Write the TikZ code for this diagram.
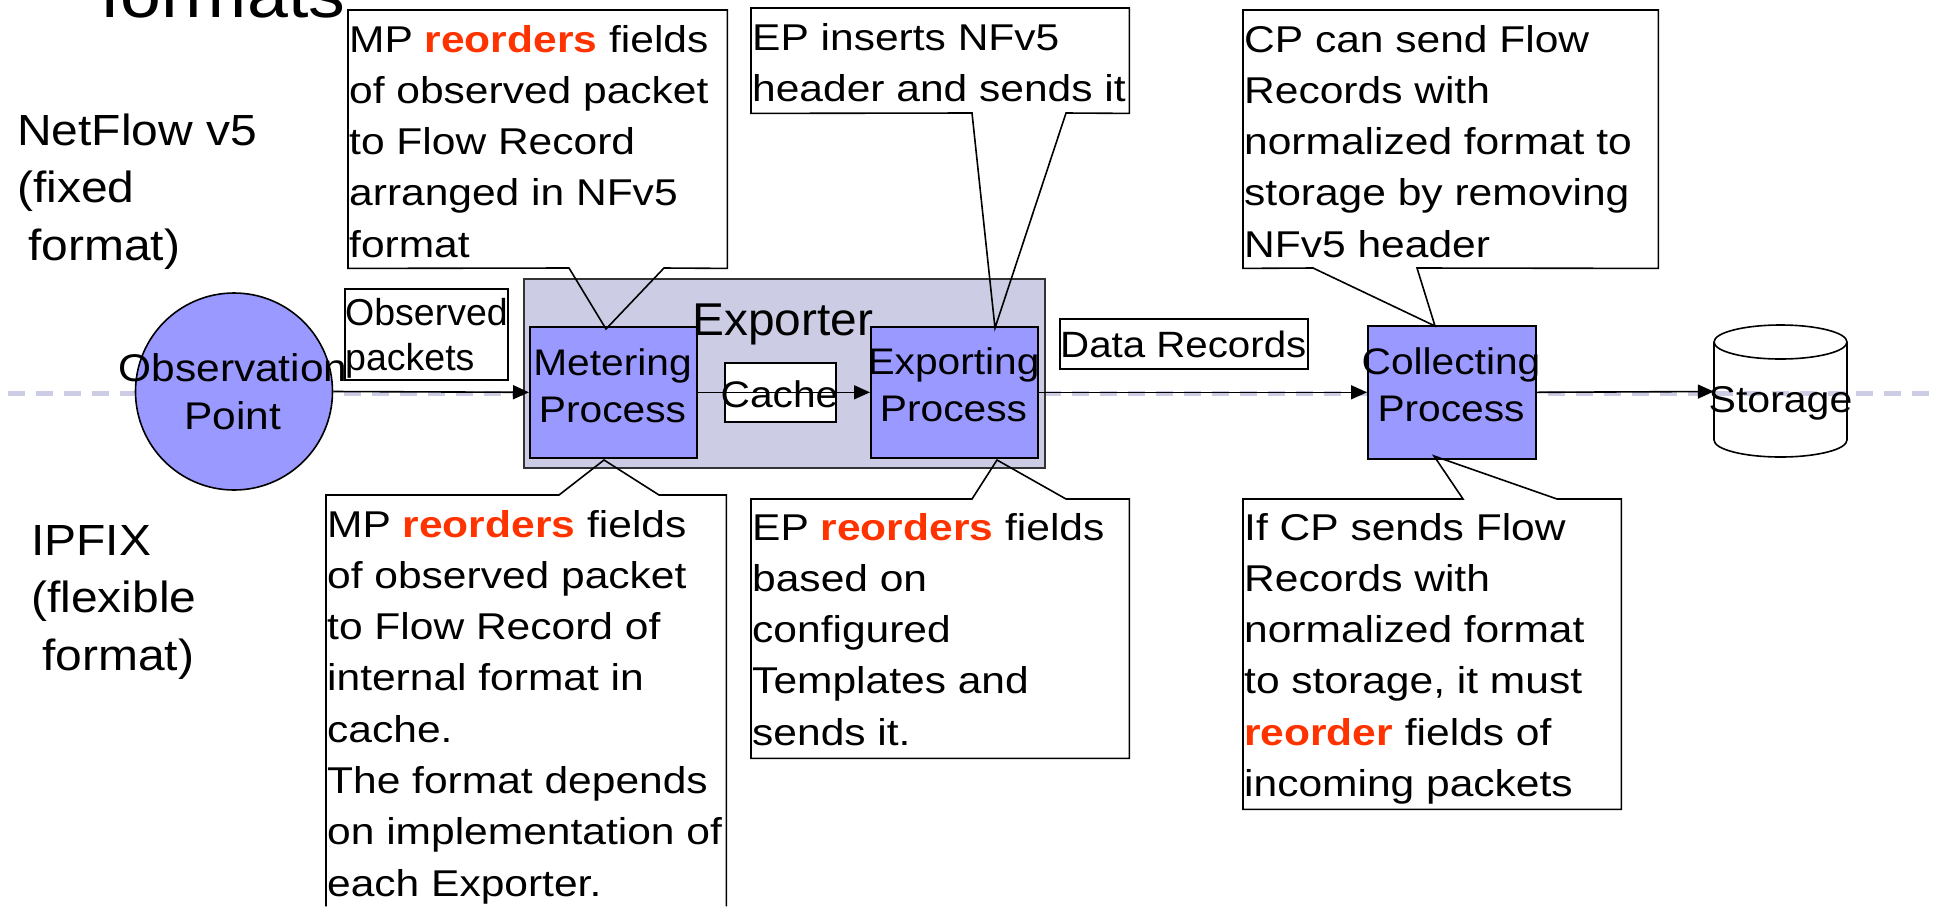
\documentclass[tikz,border=0pt]{standalone}
\usepackage{fontspec}
\setmainfont{Liberation Sans}[FakeStretch=1.1]
\newfontfamily\fontN{Liberation Sans}[FakeStretch=1.0]
\newfontfamily\fontE{Liberation Sans}[FakeStretch=1.04]
\newfontfamily\fontC{Liberation Sans}[FakeStretch=1.14]
\usetikzlibrary{arrows.meta}
\definecolor{procfill}{RGB}{153,153,255}
\definecolor{expfill}{RGB}{204,204,228}
\definecolor{dashcol}{RGB}{204,204,228}
\definecolor{hot}{RGB}{255,51,0}
\newcommand{\redword}[1]{\textcolor{hot}{\bfseries #1}}
\newcommand{\ctext}[1]{\parbox[t]{460pt}{\raggedright\fontC\fontsize{37.3}{51.3}\selectfont #1}}
\newcommand{\ptext}[1]{\parbox[t]{260pt}{\centering\fontsize{37}{47.5}\selectfont #1}}
\begin{document}
\begin{tikzpicture}[x=1pt,y=-1pt,
  procbox/.style={draw, line width=1.6pt, fill=procfill, inner sep=0pt, anchor=north west},
  callbg/.style={fill=white, inner sep=0pt, anchor=north west},
  cline/.style={draw, line width=1.6pt, line join=miter},
  plainbox/.style={draw, line width=1.6pt, fill=white, inner sep=0pt, anchor=north west},
  txt/.style={inner sep=0pt, anchor=base west},
  ctr/.style={inner sep=0pt, anchor=base},
  arr/.style={-{Triangle[length=16pt,width=14pt]}, line width=1.6pt}]

\useasboundingbox (0,0) rectangle (1933,906);
\fill[white] (0,0) rectangle (1933,906);

% dashed guide line
\coordinate (dashL) at (8,393);
\coordinate (dashR) at (1933,393);
\draw[dashcol, line width=5pt, dash pattern=on 17pt off 11pt] (dashL) -- (dashR);

% title fragment
\node[txt] (title) at (100,17) {\fontsize{66.8}{70}\selectfont formats};

% side labels
\node[txt] (nf) at (17,145) {\parbox[t]{300pt}{\fontsize{43.6}{57.5}\selectfont NetFlow v5\\(fixed\\\hspace*{11pt}format)}};
\node[txt] (ipfix) at (31,555) {\parbox[t]{300pt}{\fontsize{43.6}{57.5}\selectfont IPFIX\\(flexible\\\hspace*{11pt}format)}};

% observation point
\node[circle, draw, line width=1.6pt, fill=procfill, minimum size=197pt, inner sep=0pt] (op) at (234,391.5) {};
\node[ctr] (opText) at (233,381) {\parbox[t]{280pt}{\centering\fontsize{38.6}{48}\selectfont Observation\\Point}};

% exporter
\node[draw=black!80, line width=1.6pt, fill=expfill, inner sep=0pt, anchor=north west, minimum width=521pt, minimum height=189pt] (exp) at (523,278) {};

% process boxes
\node[procbox, minimum width=167pt, minimum height=131pt] (mp) at (529,326) {};
\node[procbox, minimum width=167pt, minimum height=131pt] (ep) at (870,326) {};
\node[procbox, minimum width=168pt, minimum height=133pt] (cp) at (1367,325) {};
\node[ctr] (mpText) at (612.5,375) {\ptext{Metering\\Process}};
\node[ctr] (epText) at (953.5,374) {\ptext{Exporting\\Process}};
\node[ctr] (cpText) at (1451,374) {\ptext{Collecting\\Process}};
\node[txt] (expText) at (692,335) {\fontE\fontsize{46}{50}\selectfont Exporter};

% cache
\node[plainbox, minimum width=111pt, minimum height=59pt] (cache) at (724,362) {};
\node[ctr] (cacheText) at (779.5,407) {\fontsize{37}{42}\selectfont Cache};

% observed packets
\node[plainbox, minimum width=163pt, minimum height=91pt] (obs) at (344,288) {};
\node[txt] (obsText) at (345,325) {\parbox[t]{200pt}{\fontN\fontsize{37.5}{45}\selectfont Observed\\packets}};

% data records
\node[plainbox, minimum width=248pt, minimum height=50pt] (dr) at (1059,318) {};
\node[txt] (drText) at (1060,357) {\fontsize{36.6}{42}\selectfont Data Records};

% storage
\node[minimum width=133pt, minimum height=132pt, inner sep=0pt] (sto) at (1780.5,391.5) {};
\draw[line width=1.6pt] (1780.5,342) ellipse [x radius=66.5, y radius=17];
\draw[line width=1.6pt] (1714,342) -- (1714,440) .. controls (1714,449.4) and (1743.8,457) .. (1780.5,457) .. controls (1817.2,457) and (1847,449.4) .. (1847,440) -- (1847,342);
\node[ctr] (stoText) at (1780.5,412) {\fontsize{37.3}{42}\selectfont Storage};

% arrows
\draw[arr] (op.east) -- (mp.west);
\draw[arr] (mp.east) -- (ep.west);
\draw[arr] (ep.east) -- (cp.west);
\draw[arr] (cp.east) -- (sto.west);

% callout: MP top
\node[callbg, minimum width=379pt, minimum height=258pt] (mpTop) at (348,10) {};
\coordinate (mpTopTip) at (606,329);
\draw[cline] (mpTop.south west) -- (569,268) -- (mpTopTip) -- (664,268) -- (mpTop.south east) -- (mpTop.north east) -- (mpTop.north west) -- cycle;
\node[txt] (mpTopText) at (349,52) {\ctext{MP \redword{reorders} fields\\of observed packet\\to Flow Record\\arranged in NFv5\\format}};

% callout: EP top
\node[callbg, minimum width=378pt, minimum height=105pt] (epTop) at (751,8) {};
\coordinate (epTopTip) at (995,328);
\draw[cline] (epTop.south west) -- (972,113) -- (epTopTip) -- (1066,113) -- (epTop.south east) -- (epTop.north east) -- (epTop.north west) -- cycle;
\node[txt] (epTopText) at (752,50) {\ctext{EP inserts NFv5\\header and sends it}};

% callout: CP top
\node[callbg, minimum width=415pt, minimum height=258pt] (cpTop) at (1243,10) {};
\coordinate (cpTopTip) at (1435,326);
\draw[cline] (cpTop.south west) -- (1313,268) -- (cpTopTip) -- (1417,268) -- (cpTop.south east) -- (cpTop.north east) -- (cpTop.north west) -- cycle;
\node[txt] (cpTopText) at (1244,52) {\ctext{CP can send Flow\\Records with\\normalized format to\\storage by removing\\NFv5 header}};

% callout: MP bottom
\node[callbg, minimum width=400pt, minimum height=411pt] (mpBot) at (326,495) {};
\coordinate (mpBotTip) at (604,460);
\draw[cline] (mpBot.south west) -- (mpBot.north west) -- (559,495) -- (mpBotTip) -- (659,495) -- (mpBot.north east) -- (mpBot.south east);
\node[txt] (mpBotText) at (327,537) {\ctext{MP \redword{reorders} fields\\of observed packet\\to Flow Record of\\internal format in\\cache.\\The format depends\\on implementation of\\each Exporter.}};

% callout: EP bottom
\node[callbg, minimum width=378pt, minimum height=259pt] (epBot) at (751,499) {};
\coordinate (epBotTip) at (997,460);
\draw[cline] (epBot.north west) -- (972,499) -- (epBotTip) -- (1066,499) -- (epBot.north east) -- (epBot.south east) -- (epBot.south west) -- cycle;
\node[txt] (epBotText) at (752,540) {\ctext{EP \redword{reorders} fields\\based on\\configured\\Templates and\\sends it.}};

% callout: CP bottom
\node[callbg, minimum width=378pt, minimum height=310pt] (cpBot) at (1243,499) {};
\coordinate (cpBotTip) at (1434,456);
\draw[cline] (cpBot.north west) -- (1463,499) -- (cpBotTip) -- (1557,499) -- (cpBot.north east) -- (cpBot.south east) -- (cpBot.south west) -- cycle;
\node[txt] (cpBotText) at (1244,540) {\ctext{If CP sends Flow\\Records with\\normalized format\\to storage, it must\\\redword{reorder} fields of\\incoming packets}};

\end{tikzpicture}
\end{document}
